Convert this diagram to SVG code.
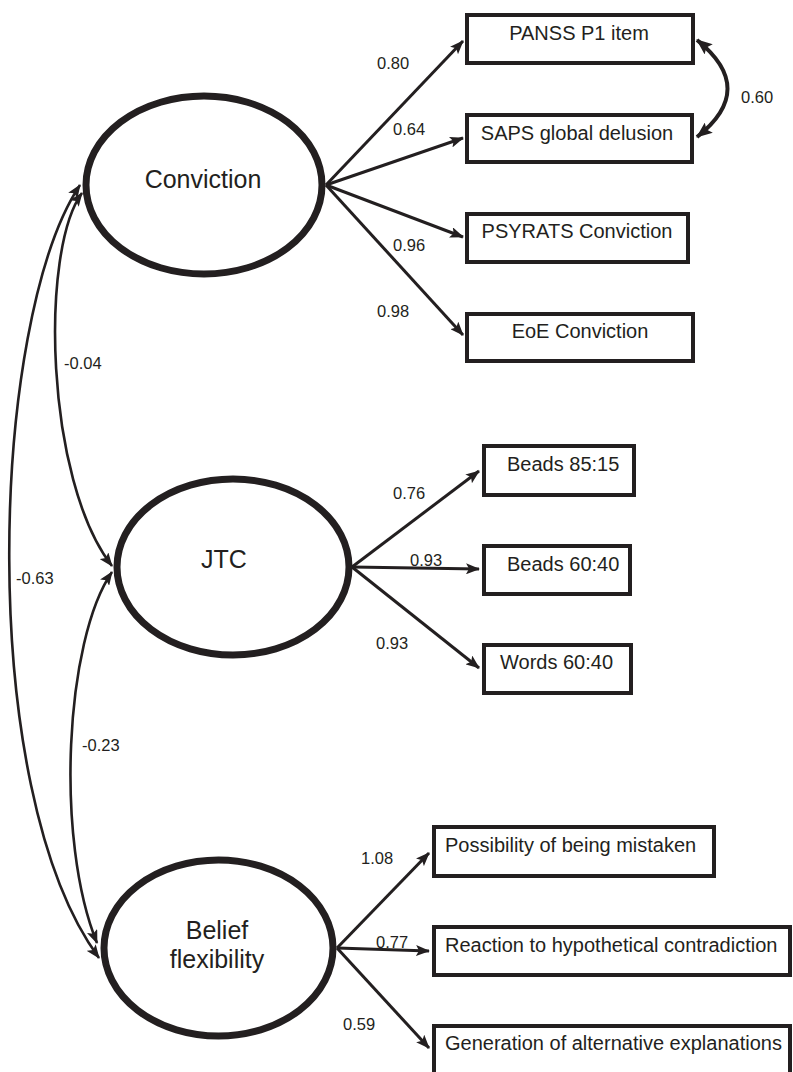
<svg xmlns="http://www.w3.org/2000/svg" width="793" height="1072" viewBox="0 0 793 1072">
<style>
  .lat { fill: #ffffff; stroke: #231f20; stroke-width: 7; }
  .obs { fill: #ffffff; stroke: #231f20; stroke-width: 4; }
  .lt { font-family: "Liberation Sans", Arial, sans-serif; font-size: 25px; fill: #231f20; text-anchor: middle; }
  .bt { font-family: "Liberation Sans", Arial, sans-serif; font-size: 20px; fill: #231f20; }
  .nl { font-family: "Liberation Sans", Arial, sans-serif; font-size: 16.5px; fill: #231f20; }
  .ar { fill: none; stroke: #231f20; stroke-width: 3; marker-end: url(#ah); }
  .cv { fill: none; stroke: #231f20; stroke-width: 2.6; marker-start: url(#ah); marker-end: url(#ah); }
  .cvb { fill: none; stroke: #231f20; stroke-width: 4; marker-start: url(#ahb); marker-end: url(#ahb); }
</style>
<defs>
  <marker id="ah" markerUnits="userSpaceOnUse" viewBox="0 0 14 11" refX="13" refY="5.5" markerWidth="14" markerHeight="11" orient="auto-start-reverse">
    <path d="M0,0 L14,5.5 L0,11 L3,5.5 z" fill="#231f20"/>
  </marker>
  <marker id="ahb" markerUnits="userSpaceOnUse" viewBox="0 0 16 13" refX="15" refY="6.5" markerWidth="16" markerHeight="13" orient="auto-start-reverse">
    <path d="M0,0 L16,6.5 L0,13 L3,6.5 z" fill="#231f20"/>
  </marker>
</defs>

<g id="connectors">
  <path class="ar" d="M326,185 L463,41"/>
  <path class="ar" d="M326,185 L463,138"/>
  <path class="ar" d="M326,185 L463,237"/>
  <path class="ar" d="M326,185 L463,335"/>
  <path class="ar" d="M352,567 L479,471"/>
  <path class="ar" d="M352,567 L479,569"/>
  <path class="ar" d="M352,567 L479,668"/>
  <path class="ar" d="M337,948 L429,853"/>
  <path class="ar" d="M337,948 L429,951"/>
  <path class="ar" d="M337,948 L429,1048"/>
  <path class="cvb" d="M697,40 Q758,89 697,137"/>
  <path class="cv" d="M82,193 C40,250 45,480 112,566"/>
  <path class="cv" d="M112,572 C65,640 55,840 97,943"/>
  <path class="cv" d="M80,185 C-10,320 -25,790 99,958"/>
  <text class="nl" x="377" y="69">0.80</text>
  <text class="nl" x="393" y="135">0.64</text>
  <text class="nl" x="393" y="251">0.96</text>
  <text class="nl" x="377" y="317">0.98</text>
  <text class="nl" x="741" y="103">0.60</text>
  <text class="nl" x="393" y="499">0.76</text>
  <text class="nl" x="410" y="566">0.93</text>
  <text class="nl" x="376" y="649">0.93</text>
  <text class="nl" x="361" y="864">1.08</text>
  <text class="nl" x="376" y="948">0.77</text>
  <text class="nl" x="343" y="1030">0.59</text>
  <text class="nl" x="64" y="369">-0.04</text>
  <text class="nl" x="16" y="584">-0.63</text>
  <text class="nl" x="82" y="751">-0.23</text>
</g>

<g id="conviction">
  <ellipse class="lat" cx="204" cy="185" rx="118" ry="89"/>
  <text class="lt" x="203" y="188">Conviction</text>
</g>
<g id="jtc">
  <ellipse class="lat" cx="233" cy="567" rx="116" ry="88"/>
  <text class="lt" x="224" y="568">JTC</text>
</g>
<g id="belief">
  <ellipse class="lat" cx="218.5" cy="948" rx="114.5" ry="88"/>
  <text class="lt" x="217" y="939">Belief</text>
  <text class="lt" x="217" y="968">flexibility</text>
</g>

<g id="panss">
  <rect class="obs" x="467" y="15" width="226" height="48"/>
  <text class="bt" x="579" y="40" text-anchor="middle">PANSS P1 item</text>
</g>
<g id="saps">
  <rect class="obs" x="467" y="115" width="225" height="47"/>
  <text class="bt" x="577" y="140" text-anchor="middle">SAPS global delusion</text>
</g>
<g id="psyrats">
  <rect class="obs" x="467" y="214" width="221" height="48"/>
  <text class="bt" x="577" y="238" text-anchor="middle">PSYRATS Conviction</text>
</g>
<g id="eoe">
  <rect class="obs" x="467" y="314" width="226" height="47"/>
  <text class="bt" x="580" y="338" text-anchor="middle">EoE Conviction</text>
</g>
<g id="beads8515">
  <rect class="obs" x="484" y="446" width="150" height="49"/>
  <text class="bt" x="507" y="471">Beads 85:15</text>
</g>
<g id="beads6040">
  <rect class="obs" x="484" y="546" width="146" height="48"/>
  <text class="bt" x="507" y="571">Beads 60:40</text>
</g>
<g id="words6040">
  <rect class="obs" x="484" y="645" width="147" height="48"/>
  <text class="bt" x="500" y="669">Words 60:40</text>
</g>
<g id="possibility">
  <rect class="obs" x="434" y="827" width="280" height="49"/>
  <text class="bt" x="445" y="852">Possibility of being mistaken</text>
</g>
<g id="reaction">
  <rect class="obs" x="434" y="927" width="356" height="48"/>
  <text class="bt" x="445" y="952">Reaction to hypothetical contradiction</text>
</g>
<g id="generation">
  <rect class="obs" x="434" y="1026" width="356" height="60"/>
  <text class="bt" x="445" y="1050">Generation of alternative explanations</text>
</g>
</svg>
